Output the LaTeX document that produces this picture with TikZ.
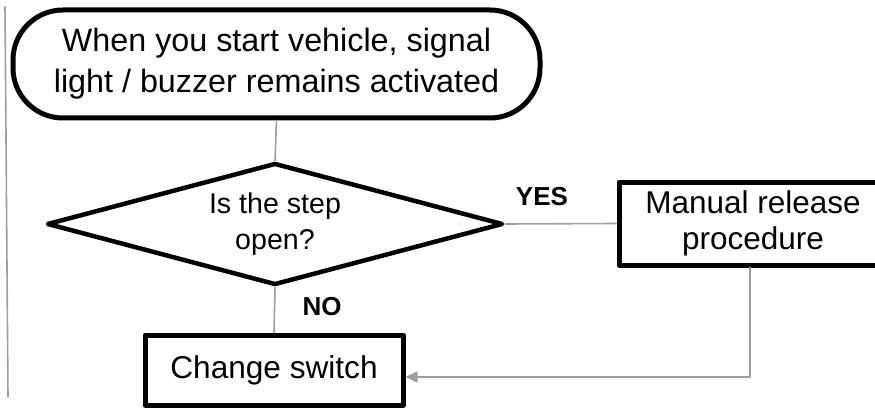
\documentclass[tikz,border=0pt]{standalone}
\usepackage{fontspec}
\setmainfont{Liberation Sans}
\usetikzlibrary{shapes.geometric,arrows.meta}
\begin{document}
\begin{tikzpicture}[x=1pt, y=-1pt, line cap=round, line join=round, >={Triangle[length=12pt, width=11pt]}]
	\tikzset{box/.style={draw, line width=5pt, align=center, inner sep=0pt},
		link/.style={draw=black!38, line width=1.6pt},
		answer/.style={font=\fontsize{26}{30}\selectfont\bfseries}}
	\useasboundingbox (0,0) rectangle (875,409);
	\draw[link] (5,7)--(8,397);
	\node[box, rounded corners=50pt, minimum width=527pt, minimum height=108pt, font=\fontsize{32.3}{41}\selectfont] (start) at (276.5,64) {When you start vehicle, signal\\light / buzzer remains activated};
	\node[box, diamond, line width=4.5pt, aspect=3.7, minimum width=456pt, minimum height=122pt, font=\fontsize{28.6}{36}\selectfont] (step) at (275,224) {Is the step\\open?};
	\node[box, minimum width=268pt, minimum height=83pt, font=\fontsize{31.5}{36}\selectfont] (manual) at (753,223.5) {Manual release\\procedure};
	\node[box, minimum width=258pt, minimum height=70pt, font=\fontsize{31.6}{38}\selectfont] (change) at (274,370) {Change switch};
	\draw[link] (start.south)--(step.north);
	\draw[link] (step.east)--(manual.west);
	\draw[link] (step.south)--(change.north);
	\draw[link, ->, black!38] ([xshift=-3pt]manual.south) |- ([yshift=-7pt]change.east);
	\node[answer] (yes) at (542,197) {YES};
	\node[answer] (no) at (322,307) {NO};
\end{tikzpicture}
\end{document}
